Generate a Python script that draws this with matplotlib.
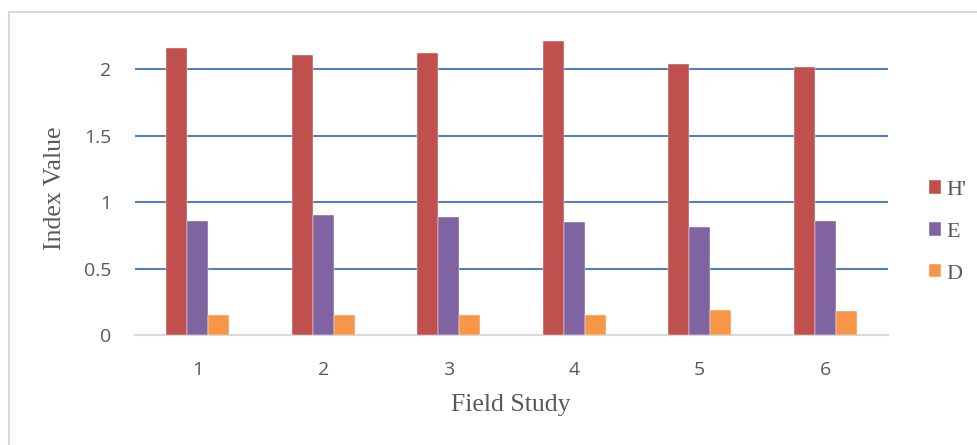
import numpy as np
import matplotlib.pyplot as plt
from matplotlib.patches import Rectangle

# Данные
studies = ['1', '2', '3', '4', '5', '6']
h_vals = [2.16, 2.11, 2.12, 2.21, 2.04, 2.02]
e_vals = [0.86, 0.90, 0.89, 0.85, 0.81, 0.86]
d_vals = [0.15, 0.15, 0.15, 0.15, 0.19, 0.18]
series = ["H'", 'E', 'D']
colors = ['#C0504D', '#8064A2', '#F79646']

W, H = 978, 445
fig = plt.figure(figsize=(W / 100, H / 100), dpi=100)
ax = fig.add_axes([135 / W, 1 - 335 / H, (888 - 135) / W, (335 - 16) / H])

x = np.arange(len(studies))
bw = 1 / 6
for i, (vals, name, c) in enumerate(zip([h_vals, e_vals, d_vals], series, colors)):
    ax.bar(x + (i - 1) * bw, vals, bw, color=c, label=name, zorder=3,
           edgecolor='white', linewidth=0.3)

ax.set_xlim(-0.5, len(studies) - 0.5)
ax.set_ylim(0, 2.4)
ax.set_yticks([0, 0.5, 1, 1.5, 2])
ax.set_yticklabels(['0', '0.5', '1', '1.5', '2'])
ax.set_xticks(x)
ax.set_xticklabels(studies)

for y in [0.5, 1, 1.5, 2]:
    ax.axhline(y, color='#4F81BD', linewidth=1.5, zorder=1)

for s in ['top', 'right', 'left']:
    ax.spines[s].set_visible(False)
ax.spines['bottom'].set_color('#D9D9D9')
ax.spines['bottom'].set_linewidth(1.5)
ax.tick_params(length=0, labelsize=14, labelcolor='#595959')
ax.tick_params(axis='y', pad=17)
ax.tick_params(axis='x', pad=18.5)
for t in ax.get_xticklabels() + ax.get_yticklabels():
    t.set_family('Open Sans')

# Подписи осей
fig.text(511 / W, 1 - 405 / H, 'Field Study', family='Liberation Serif',
         fontsize=18.5, color='#595959', ha='center', va='center')
fig.text(55 / W, 1 - 188 / H, 'Index Value', family='Liberation Serif',
         fontsize=18.5, color='#595959', rotation=90, ha='center', va='center')

leg = fig.legend(loc='center left', bbox_to_anchor=(929 / W, 1 - 232 / H),
                 frameon=False, handlelength=0.55, handleheight=0.55,
                 handletextpad=0.25, labelspacing=1.0, borderpad=0,
                 borderaxespad=0,
                 prop={'family': 'Liberation Serif', 'size': 16})
for t in leg.get_texts():
    t.set_color('#595959')

fig.patches.append(Rectangle((9 / W, -0.1), 1.2, 1 - 12 / H + 0.1,
                             transform=fig.transFigure, fill=False,
                             edgecolor='#D9D9D9', linewidth=1.5))

fig.savefig('out.png', dpi=100)
